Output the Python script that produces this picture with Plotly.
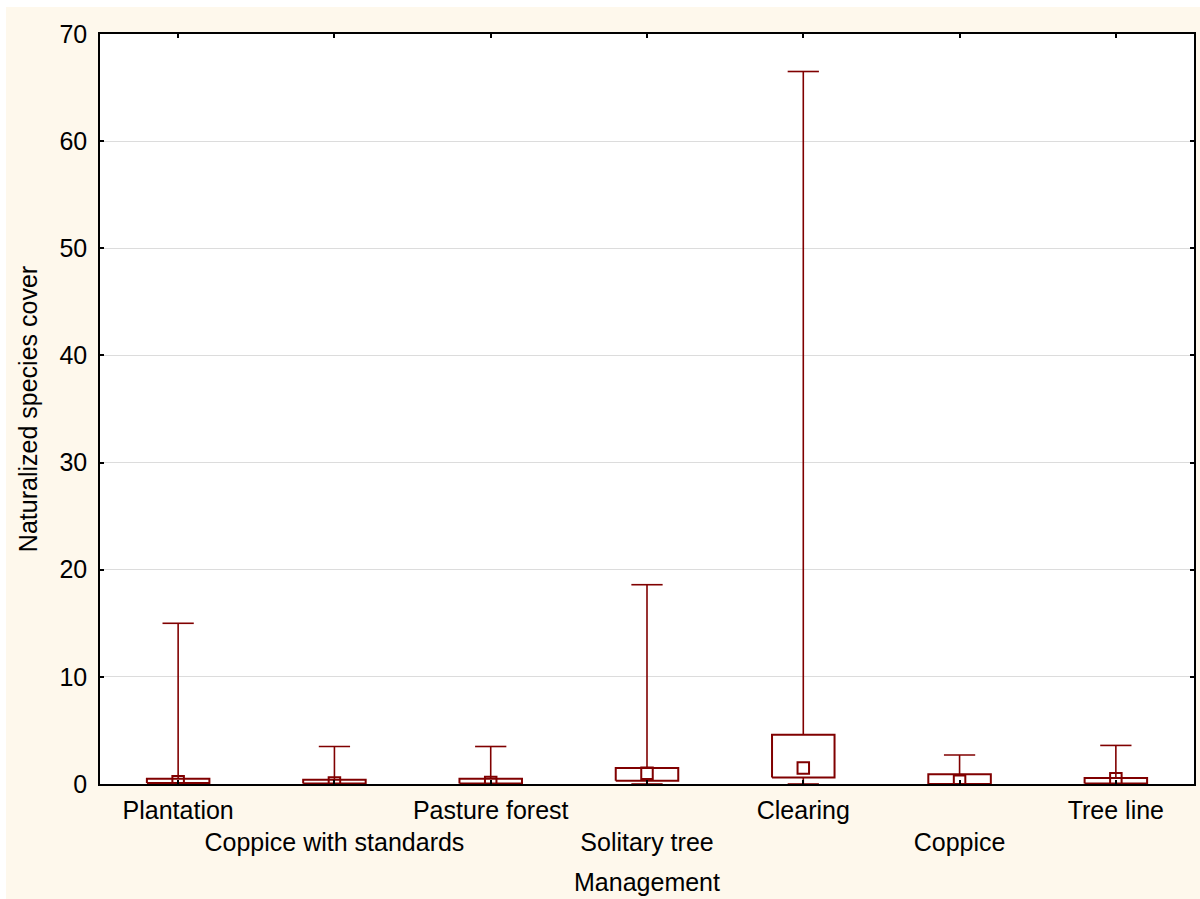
import plotly.graph_objects as go

# Naturalized species cover by management type: median, quartiles, min-max
categories = ["Plantation", "Coppice with standards", "Pasture forest",
              "Solitary tree", "Clearing", "Coppice", "Tree line"]
minimum = [0.0, 0.0, 0.0, 0.0, 0.0, 0.0, 0.0]
q1 = [0.1, 0.05, 0.05, 0.3, 0.6, 0.0, 0.05]
median = [0.2, 0.1, 0.15, 1.0, 1.5, 0.25, 0.5]
q3 = [0.5, 0.4, 0.5, 1.5, 4.6, 0.9, 0.55]
maximum = [15.0, 3.5, 3.5, 18.6, 66.5, 2.7, 3.6]

y_ticks = [0, 10, 20, 30, 40, 50, 60, 70]

MAROON = "#800000"
CREAM = "#FEF8EC"
FONT = "Liberation Sans, Arial, sans-serif"
FS = 25

box_half = 0.2     # half box width, in category units
cap_half = 0.1     # half whisker-cap width

pos = list(range(len(categories)))

# quartile boxes
bx, by = [], []
for i in pos:
    bx += [i - box_half, i + box_half, i + box_half, i - box_half, i - box_half, None]
    by += [q1[i], q1[i], q3[i], q3[i], q1[i], None]

# whiskers (min-max) with caps
wx, wy = [], []
for i in pos:
    wx += [i, i, None, i - cap_half, i + cap_half, None,
           i, i, None, i - cap_half, i + cap_half, None]
    wy += [q3[i], maximum[i], None, maximum[i], maximum[i], None,
           q1[i], minimum[i], None, minimum[i], minimum[i], None]

fig = go.Figure()
fig.add_trace(go.Scatter(x=wx, y=wy, mode="lines",
                         line=dict(color=MAROON, width=1.6),
                         hoverinfo="skip", showlegend=False))
fig.add_trace(go.Scatter(x=bx, y=by, mode="lines",
                         line=dict(color=MAROON, width=2),
                         hoverinfo="skip", showlegend=False))
fig.add_trace(go.Scatter(x=pos, y=median, mode="markers",
                         marker=dict(symbol="square-open", size=11.5,
                                     color=MAROON, line=dict(color=MAROON, width=2)),
                         showlegend=False))

# alternate label rows so the long names don't collide
tick_text = [c if i % 2 == 0 else "<br>" + c for i, c in enumerate(categories)]

fig.update_xaxes(
    range=[-0.5, len(categories) - 0.5],
    tickvals=pos, ticktext=tick_text, tickangle=0, automargin=False,
    ticklabelstandoff=3,
    ticks="inside", ticklen=4, tickcolor="black", tickwidth=1.5,
    showline=True, linecolor="black", linewidth=1.5, mirror="ticks",
    showgrid=False, zeroline=False,
    tickfont=dict(family=FONT, size=FS, color="black"),
    title=dict(text="Management", standoff=18,
               font=dict(family=FONT, size=FS, color="black")),
)
fig.update_yaxes(
    range=[0, 70], tickvals=y_ticks, automargin=False,
    ticklabelstandoff=6,
    ticks="inside", ticklen=4, tickcolor="black", tickwidth=1.5,
    showline=True, linecolor="black", linewidth=1.5, mirror="ticks",
    showgrid=True, gridcolor="#DCDCDC", gridwidth=1, zeroline=False,
    tickfont=dict(family=FONT, size=FS, color="black"),
    title=dict(text="Naturalized species cover",
               font=dict(family=FONT, size=FS, color="black")),
)

fig.update_layout(
    width=1200, height=899,
    margin=dict(l=100, r=6, t=34, b=115),
    paper_bgcolor=CREAM, plot_bgcolor="white",
    shapes=[
        dict(type="rect", xref="paper", yref="paper", x0=-0.2, x1=1.1,
             y0=1.036, y1=1.1, fillcolor="white", line_width=0, layer="below"),
        dict(type="rect", xref="paper", yref="paper", x0=-0.2, x1=-0.0859,
             y0=-0.3, y1=1.1, fillcolor="white", line_width=0, layer="below"),
    ],
)

fig.write_html("out.html")
